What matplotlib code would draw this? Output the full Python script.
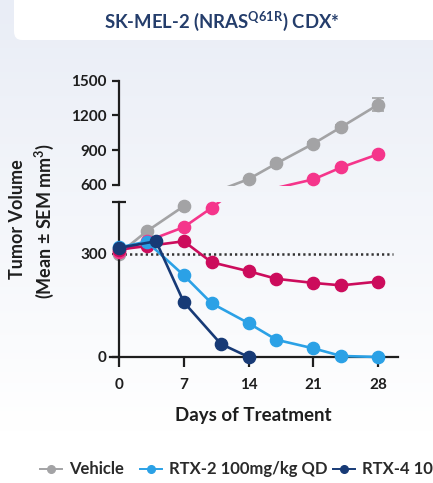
import numpy as np
import matplotlib
matplotlib.use("Agg")
import matplotlib.pyplot as plt
from matplotlib.patches import FancyBboxPatch
from matplotlib.lines import Line2D

plt.rcParams['font.family'] = ['Lato', 'DejaVu Sans']
plt.rcParams['font.weight'] = 'bold'
plt.rcParams['mathtext.fontset'] = 'custom'
plt.rcParams['mathtext.rm'] = 'Lato:bold'
plt.rcParams['mathtext.bf'] = 'Lato:bold'
plt.rcParams['mathtext.default'] = 'rm'

# ---- data ----
vehicle_days = [0, 3, 7, 14, 17, 21, 24, 28]
vehicle_vol = [300, 365, 438, 651, 786, 957, 1100, 1294]
vehicle_sem = [0, 8, 10, 12, 15, 18, 20, 55]

rtx2_days = [0, 3, 7, 10, 14, 17, 21, 24, 28]
rtx2_vol = [318, 335, 237, 156, 98, 50, 25, 3, 0]

rtx4_days = [0, 4, 7, 11, 14]
rtx4_vol = [317, 336, 159, 38, 0]

pink_days = [0, 3, 7, 10, 14, 17, 21, 24, 28]
pink_vol = [306, 336, 377, 433, 515, 575, 649, 752, 866]

crimson_days = [0, 3, 7, 10, 14, 17, 21, 24, 28]
crimson_vol = [312, 322, 336, 275, 249, 227, 215, 208, 219]

x_ticks = [0, 7, 14, 21, 28]
y_ticks_low = [0, 300]
y_ticks_high = [600, 900, 1200, 1500]
baseline = 300

legend_labels = ["Vehicle", "RTX-2 100mg/kg QD", "RTX-4 10mg/kg QD"]

c_gray = "#a3a3a5"
c_lblue = "#2ba1e6"
c_navy = "#173a76"
c_pink = "#f5358b"
c_crimson = "#cc0c5c"
c_axis = "#1e1e1e"

W, H = 433, 483
fig = plt.figure(figsize=(W / 100, H / 100), dpi=100)

# background gradient
bg = fig.add_axes([0, 0, 1, 1], zorder=-10)
bg.set_axis_off()
top = np.array([233, 237, 246]) / 255
bot = np.array([255, 255, 255]) / 255
t = np.clip(np.linspace(0, 1, H) * 1.12, 0, 1)[:, None]
grad = top[None, :] * (1 - t) + bot[None, :] * t
bg.imshow(np.repeat(grad[:, None, :], 2, axis=1), aspect='auto', extent=[0, 1, 0, 1])
bg.set_xlim(0, 1)
bg.set_ylim(0, 1)

# title card
card = FancyBboxPatch((14 / W, 1 - 40 / H), 1.2, 0.2,
                      boxstyle="round,pad=0,rounding_size=0.018",
                      transform=fig.transFigure, facecolor="white",
                      edgecolor="none", zorder=-5)
fig.patches.append(card)
fig.text(222 / W, 1 - 21 / H, r"SK-MEL-2 (NRAS$^{\mathrm{Q61R}}$) CDX*",
         ha="center", va="center", fontsize=13.3, fontweight="bold",
         color="#243d6b")

# axes geometry (pixels)
px_per_day = (378.3 - 119) / 28
xlim = (-1.0, 30.1)
x_left = 119 + xlim[0] * px_per_day
x_right = 119 + xlim[1] * px_per_day

low_lim = (-25, 450)
low_scale = (357 - 202) / 450
low_bottom_px = 357 + 25 * low_scale
low_top_px = 202
high_lim = (590, 1500)
high_scale = (185 - 80.7) / 900
high_bottom_px = 185 + 10 * high_scale
high_top_px = 80.7

ax_lo = fig.add_axes([x_left / W, 1 - low_bottom_px / H,
                      (x_right - x_left) / W, (low_bottom_px - low_top_px) / H])
ax_hi = fig.add_axes([x_left / W, 1 - high_bottom_px / H,
                      (x_right - x_left) / W, (high_bottom_px - high_top_px) / H])

series = [
    (vehicle_days, vehicle_vol, c_gray, 2),
    (pink_days, pink_vol, c_pink, 3),
    (crimson_days, crimson_vol, c_crimson, 4),
    (rtx2_days, rtx2_vol, c_lblue, 5),
    (rtx4_days, rtx4_vol, c_navy, 6),
]

for ax, (lo, hi) in ((ax_lo, (low_lim[0], 450)), (ax_hi, (600, 1500))):
    ax.set_facecolor("none")
    ax.set_xlim(*xlim)
    for d, v, c, z in series:
        ax.plot(d, v, color=c, lw=1.9, zorder=z, solid_capstyle="round")
        d_arr = np.array(d)
        v_arr = np.array(v)
        m = (v_arr >= lo - 1) & (v_arr <= hi)
        ax.plot(d_arr[m], v_arr[m], 'o', color=c, ms=8.8, mec=c,
                zorder=z + 0.5, clip_on=False)
    ax.tick_params(axis="both", colors=c_axis, width=1.6, length=4.8,
                   labelsize=11, pad=4)
    ax.spines["right"].set_visible(False)
    ax.spines["top"].set_visible(False)
    ax.spines["left"].set_position(("data", 0))
    ax.spines["left"].set_linewidth(1.6)
    ax.spines["left"].set_color(c_axis)

# error bars of the vehicle group
m_hi = np.array(vehicle_vol) >= 600
ax_hi.errorbar(np.array(vehicle_days)[m_hi], np.array(vehicle_vol)[m_hi],
               yerr=np.array(vehicle_sem)[m_hi], fmt='none', ecolor=c_gray,
               elinewidth=1.2, capsize=4, capthick=1.2, zorder=1.5)

# upper panel
ax_hi.set_ylim(*high_lim)
ax_hi.spines["left"].set_bounds(600, 1500)
ax_hi.spines["bottom"].set_visible(False)
ax_hi.set_yticks(y_ticks_high)
ax_hi.set_xticks([])
for lab in ax_hi.get_yticklabels():
    lab.set_fontweight("bold")

# lower panel
ax_lo.set_ylim(*low_lim)
ax_lo.spines["left"].set_bounds(0, 450)
ax_lo.spines["bottom"].set_position(("data", 0))
ax_lo.spines["bottom"].set_linewidth(1.6)
ax_lo.spines["bottom"].set_color(c_axis)
ax_lo.set_xticks(x_ticks)
ax_lo.set_yticks(y_ticks_low)
ax_lo.tick_params(axis="x", length=7, pad=8, labelsize=11)
for lab in ax_lo.get_xticklabels() + ax_lo.get_yticklabels():
    lab.set_fontweight("bold")
ax_lo.plot([0], [450], marker="_", ms=10, mew=1.6, color=c_axis, clip_on=False,
           zorder=10)

# baseline reference
ax_lo.plot([0, 29.6], [baseline, baseline], color="#333333", lw=1.8,
           ls=(0, (0.9, 1.2)), zorder=1.2)

ax_lo.set_xlabel("Days of Treatment", fontsize=13.5, fontweight="bold",
                 color=c_axis, labelpad=11)

fig.text(18 / W, 1 - 219 / H, "Tumor Volume", rotation=90, ha="center",
         va="center", fontsize=13, fontweight="bold", color=c_axis)
fig.text(44 / W, 1 - 221 / H, "(Mean \u00b1 SEM mm$^{3}$)", rotation=90,
         ha="center", va="center", fontsize=13, fontweight="bold", color=c_axis)

# legend row, one entry at a time
legend_x = [40, 140, 333]
legend_y = 1 - 469 / H
for x0, c, lab in zip(legend_x, (c_gray, c_lblue, c_navy), legend_labels):
    fig.add_artist(Line2D([x0 / W, (x0 + 22) / W], [legend_y, legend_y],
                          color=c, lw=1.4, transform=fig.transFigure))
    fig.add_artist(Line2D([(x0 + 11) / W], [legend_y], color=c, marker="o",
                          ms=5.5, transform=fig.transFigure))
    fig.text((x0 + 29) / W, legend_y, lab, ha="left", va="center",
             fontsize=12, fontweight="bold", color="#2a2a2a")

fig.savefig("out.png", dpi=100)
